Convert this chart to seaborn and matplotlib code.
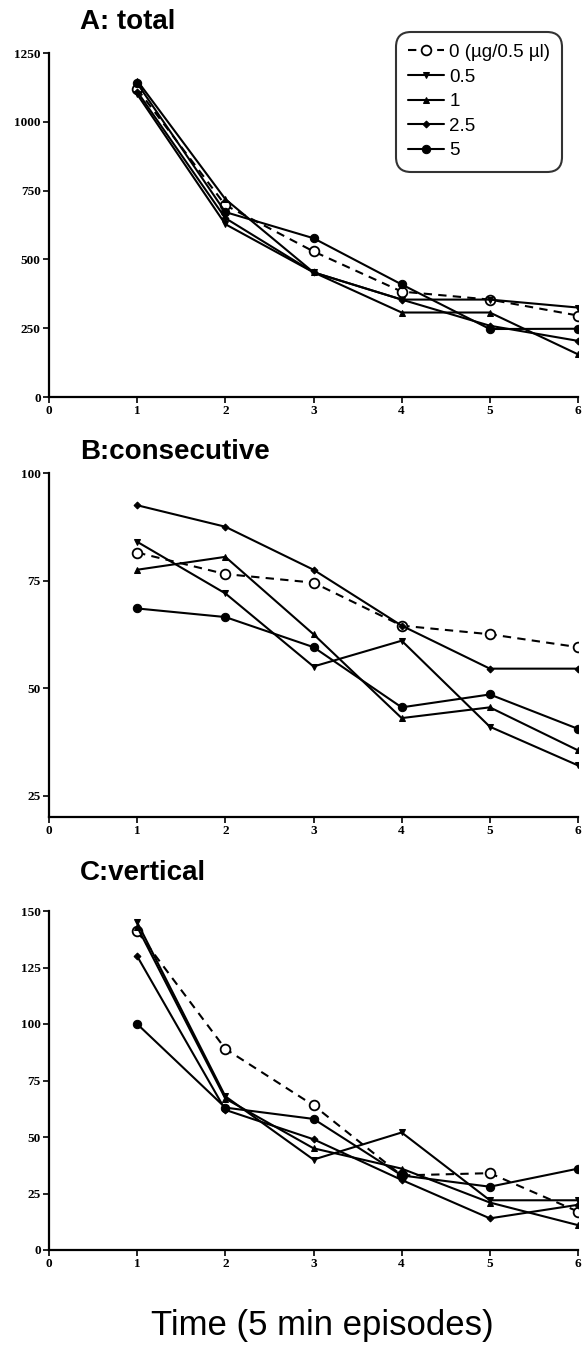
import matplotlib
matplotlib.use("Agg")
import matplotlib.pyplot as plt
import seaborn as sns
import pandas as pd

# Episodes (5 min each)
time = [1, 2, 3, 4, 5, 6]
doses = ["0 (\u00b5g/0.5 \u00b5l)", "0.5", "1", "2.5", "5"]

# A: total activity
total_0 = [1120, 697, 529, 383, 354, 296]
total_05 = [1100, 628, 453, 354, 354, 325]
total_1 = [1150, 719, 453, 307, 307, 155]
total_25 = [1110, 650, 453, 354, 259, 204]
total_5 = [1140, 672, 577, 409, 247, 248]

# B: consecutive
consec_0 = [81.5, 76.5, 74.5, 64.5, 62.5, 59.5]
consec_05 = [84, 72, 55, 61, 41, 32]
consec_1 = [77.5, 80.5, 62.5, 43, 45.5, 35.5]
consec_25 = [92.5, 87.5, 77.5, 64.5, 54.5, 54.5]
consec_5 = [68.5, 66.5, 59.5, 45.5, 48.5, 40.5]

# C: vertical
vert_0 = [141, 89, 64, 33, 34, 17]
vert_05 = [145, 68, 40, 52, 22, 22]
vert_1 = [143, 67, 45, 36, 21, 11]
vert_25 = [130, 62, 49, 31, 14, 20]
vert_5 = [100, 63, 58, 33, 28, 36]

titles = ["A: total", "B:consecutive", "C:vertical"]
yticks_a = [0, 250, 500, 750, 1000, 1250]
yticks_b = [25, 50, 75, 100]
yticks_c = [0, 25, 50, 75, 100, 125, 150]
xticks = [0, 1, 2, 3, 4, 5, 6]

panels = [
    (titles[0], [total_0, total_05, total_1, total_25, total_5], (0, 1250), yticks_a),
    (titles[1], [consec_0, consec_05, consec_1, consec_25, consec_5], (20, 100), yticks_b),
    (titles[2], [vert_0, vert_05, vert_1, vert_25, vert_5], (0, 150), yticks_c),
]

sns.set_theme(style="white")
plt.rcParams["font.family"] = ["Liberation Sans", "DejaVu Sans"]
plt.rcParams["text.color"] = "black"
plt.rcParams["xtick.color"] = "black"
plt.rcParams["ytick.color"] = "black"

styles = {
    doses[0]: dict(marker="o", markersize=7, markerfacecolor="white",
                   markeredgecolor="black", markeredgewidth=1.3, dashes=(4, 3)),
    doses[1]: dict(marker="v", markersize=5),
    doses[2]: dict(marker="^", markersize=5),
    doses[3]: dict(marker="D", markersize=3.5),
    doses[4]: dict(marker="o", markersize=6),
}

fig = plt.figure(figsize=(5.85, 13.55), dpi=100)
W, H = 585.0, 1355.0
# axes boxes in pixels: (left, top, right, bottom)
boxes = [(49, 53, 578, 397), (49, 473, 578, 817), (49, 911, 578, 1250)]
title_y = [22, 452, 873]

tick_font = dict(family="Liberation Serif", weight="bold", size=9.5)

axes = []
for (title, series, ylim, yticks), (l, t, r, b), ty in zip(panels, boxes, title_y):
    ax = fig.add_axes([l / W, 1 - b / H, (r - l) / W, (b - t) / H])
    for dose, vals in zip(doses, series):
        df = pd.DataFrame({"time": time, "value": vals})
        st = dict(styles[dose])
        dashes = st.pop("dashes", None)
        sns.lineplot(data=df, x="time", y="value", ax=ax, color="black",
                     linewidth=1.5, markeredgecolor=st.pop("markeredgecolor", "black"),
                     label=dose, **st)
        if dashes is not None:
            ax.lines[-1].set_dashes(dashes)
    ax.set_xlim(0, 6)
    ax.set_ylim(*ylim)
    ax.set_xticks(xticks)
    ax.set_yticks(yticks)
    ax.set_xticklabels([str(v) for v in xticks], fontdict=tick_font)
    ax.set_yticklabels([str(v) for v in yticks], fontdict=tick_font)
    ax.set_xlabel("")
    ax.set_ylabel("")
    for s in ["top", "right"]:
        ax.spines[s].set_visible(False)
    for s in ["left", "bottom"]:
        ax.spines[s].set_color("black")
        ax.spines[s].set_linewidth(1.6)
    ax.tick_params(axis="both", which="major", direction="out", length=4,
                   width=1.2, color="black", labelcolor="black", pad=2,
                   left=True, bottom=True)
    ax.get_legend().remove()
    fig.text(80 / W, 1 - ty / H, title, fontsize=20, fontweight="bold",
             color="black", ha="left", va="center")
    axes.append(ax)

handles, labels = axes[0].get_legend_handles_labels()
leg = fig.legend(handles, labels, loc="upper right",
                 bbox_to_anchor=(568 / W, 1 - 26 / H), bbox_transform=fig.transFigure,
                 fontsize=13.5, frameon=True, fancybox=True, handlelength=1.9,
                 handletextpad=0.3, labelspacing=0.4, borderpad=0.45)
for txt in leg.get_texts():
    txt.set_color("black")
leg.get_frame().set_edgecolor("black")
leg.get_frame().set_linewidth(1.5)
leg.get_frame().set_boxstyle("round,pad=0.2,rounding_size=0.8")

fig.text(322 / W, 1 - 1325 / H, "Time (5 min episodes)", fontsize=25,
         color="black", ha="center", va="center")

fig.savefig("out.png", dpi=100, facecolor="white")
